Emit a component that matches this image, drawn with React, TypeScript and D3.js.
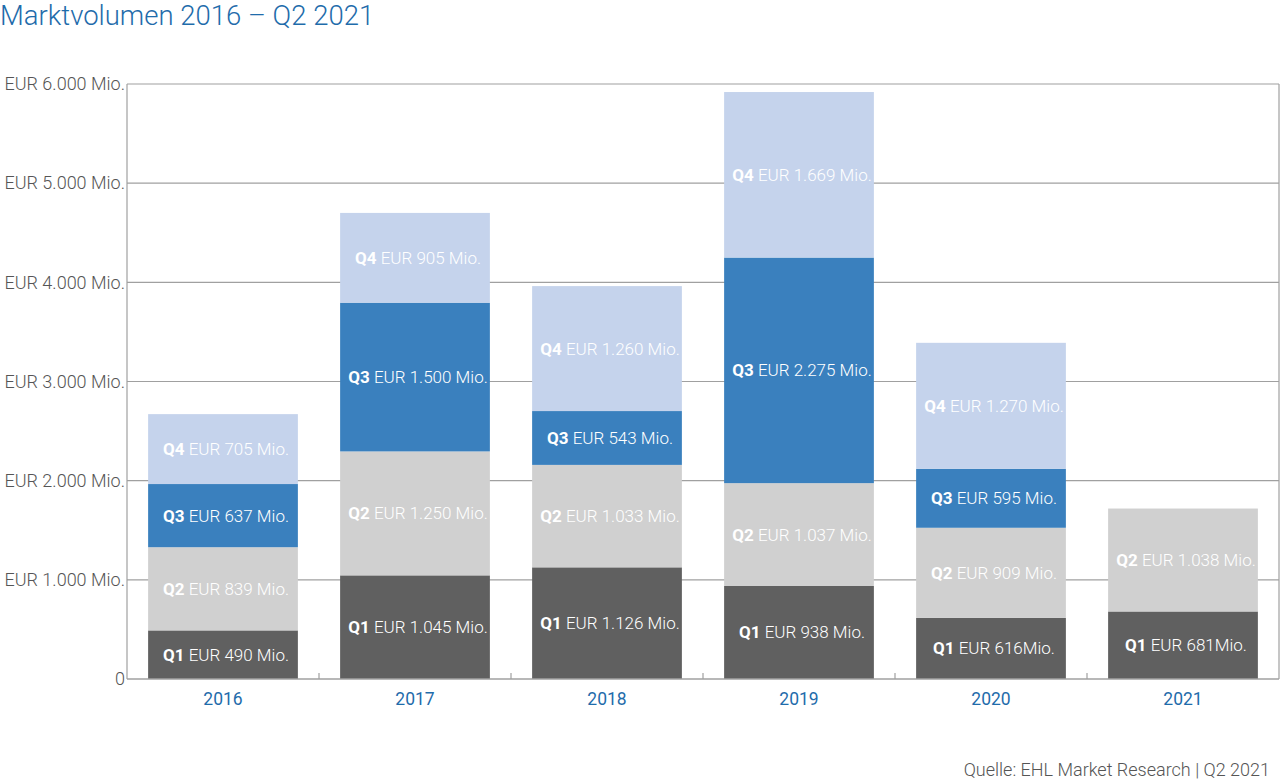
import React from 'react';
import * as d3 from 'd3';

const years = ['2016', '2017', '2018', '2019', '2020', '2021'];
const quarters = ['Q1', 'Q2', 'Q3', 'Q4'];
const q1 = [490, 1045, 1126, 938, 616, 681];
const q2 = [839, 1250, 1033, 1037, 909, 1038];
const q3 = [637, 1500, 543, 2275, 595, 0];
const q4 = [705, 905, 1260, 1669, 1270, 0];
const labelTexts = [
  ['EUR 490 Mio.', 'EUR 1.045 Mio.', 'EUR 1.126 Mio.', 'EUR 938 Mio.', 'EUR 616Mio.', 'EUR 681Mio.'],
  ['EUR 839 Mio.', 'EUR 1.250 Mio.', 'EUR 1.033 Mio.', 'EUR 1.037 Mio.', 'EUR 909 Mio.', 'EUR 1.038 Mio.'],
  ['EUR 637 Mio.', 'EUR 1.500 Mio.', 'EUR 543 Mio.', 'EUR 2.275 Mio.', 'EUR 595 Mio.', ''],
  ['EUR 705 Mio.', 'EUR 905 Mio.', 'EUR 1.260 Mio.', 'EUR 1.669 Mio.', 'EUR 1.270 Mio.', ''],
];
const yTicks = [0, 1000, 2000, 3000, 4000, 5000, 6000];
const yTickLabels = ['0', 'EUR 1.000 Mio.', 'EUR 2.000 Mio.', 'EUR 3.000 Mio.', 'EUR 4.000 Mio.', 'EUR 5.000 Mio.', 'EUR 6.000 Mio.'];
const colors = ['#606060', '#d0d0d0', '#3a80be', '#c5d3ec'];

const W = 1280;
const H = 779;
const margin = { top: 84, right: 1, bottom: 100, left: 127 };
const font = 'Roboto, "Noto Sans", sans-serif';

export default function App() {
  const x = d3.scaleBand().domain(years).range([margin.left, W - margin.right]).paddingInner(0.22).paddingOuter(0.11);
  const y = d3.scaleLinear().domain([0, 6000]).range([H - margin.bottom, margin.top]);

  const table = years.map((yr, i) => ({ year: yr, Q1: q1[i], Q2: q2[i], Q3: q3[i], Q4: q4[i], idx: i }));
  const series = d3.stack<any>().keys(quarters)(table);

  const step = x.step();

  return (
    <div style={{ position: 'absolute', left: 0, top: 0, width: W, height: H, background: '#fff' }}>
      <svg width={W} height={H} style={{ display: 'block' }} fontFamily={font} fontWeight={300}>
        <text x={0} y={25} fontSize={27.5} fill="#1f6cab">Marktvolumen 2016 – Q2 2021</text>

        {/* grid */}
        {yTicks.map((t, i) => (
          <g key={t}>
            {t > 0 && (
              <line x1={margin.left} x2={W - margin.right} y1={y(t)} y2={y(t)} stroke="#a0a0a0" strokeWidth={1.2} />
            )}
            <text x={margin.left - 2} y={y(t)} dy="0.35em" textAnchor="end" fontSize={18} fill="#555">
              {yTickLabels[i]}
            </text>
          </g>
        ))}
        <line x1={margin.left} x2={margin.left} y1={margin.top} y2={y(0)} stroke="#a0a0a0" strokeWidth={1.2} />
        <line x1={W - margin.right} x2={W - margin.right} y1={margin.top} y2={y(0)} stroke="#a0a0a0" strokeWidth={1.2} />

        {/* bars */}
        {series.map((s, si) => (
          <g key={s.key}>
            {s.map((d: any, i: number) => {
              const v = d[1] - d[0];
              if (v <= 0) return null;
              const bx = x(d.data.year)!;
              const y0 = y(d[0]);
              const y1 = y(d[1]);
              return (
                <g key={i}>
                  <rect x={bx} y={y1} width={x.bandwidth()} height={y0 - y1} fill={colors[si]} />
                  <text
                    x={bx + x.bandwidth() / 2 + 3}
                    y={(y0 + y1) / 2}
                    dy="0.35em"
                    textAnchor="middle"
                    fontSize={17}
                    fill="#fff"
                  >
                    <tspan fontWeight="bold">{s.key}</tspan>
                    <tspan> {labelTexts[si][i]}</tspan>
                  </text>
                </g>
              );
            })}
          </g>
        ))}

        {/* x axis */}
        <line x1={margin.left} x2={W - margin.right} y1={y(0)} y2={y(0)} stroke="#a0a0a0" strokeWidth={1.5} />
        {years.slice(1).map((yr) => (
          <line
            key={yr}
            x1={x(yr)! - (step - x.bandwidth()) / 2}
            x2={x(yr)! - (step - x.bandwidth()) / 2}
            y1={y(0)}
            y2={y(0) - 6}
            stroke="#a0a0a0"
            strokeWidth={1.2}
          />
        ))}
        {years.map((yr) => (
          <text key={yr} x={x(yr)! + x.bandwidth() / 2} y={705} textAnchor="middle" fontSize={17.5} fill="#1f6cab" fontWeight={400}>
            {yr}
          </text>
        ))}

        <text x={1270} y={776} textAnchor="end" fontSize={18} fill="#555">
          Quelle: EHL Market Research | Q2 2021
        </text>
      </svg>
    </div>
  );
}
